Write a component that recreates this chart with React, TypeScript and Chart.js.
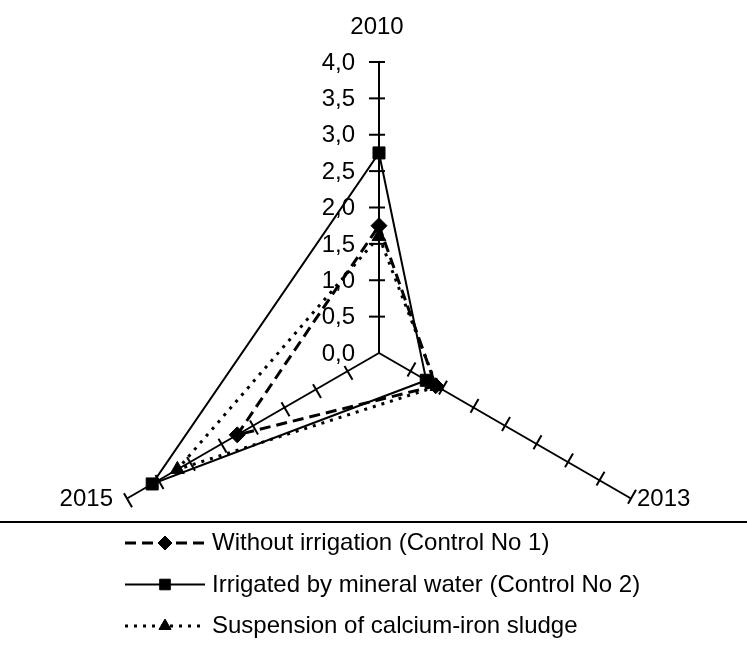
import React, { useEffect, useRef } from 'react';
import { Chart, registerables } from 'chart.js';
import { drawPoint } from 'chart.js/helpers';

Chart.register(...registerables);

const categories = ['2010', '2013', '2015'];
const withoutIrrigation = [1.75, 0.9, 2.25];
const irrigatedMineral = [2.75, 0.75, 3.6];
const suspensionSludge = [1.6, 0.92, 3.2];
const seriesNames = [
  'Without irrigation (Control No 1)',
  'Irrigated by mineral water (Control No 2)',
  'Suspension of calcium-iron sludge',
];
const tickLabels = ['0,0', '0,5', '1,0', '1,5', '2,0', '2,5', '3,0', '3,5', '4,0'];

const FONT = '"Liberation Sans", Arial, sans-serif';

const radarDecor = {
  id: 'radarDecor',
  beforeDraw(chart: any) {
    const ctx = chart.ctx;
    ctx.save();
    ctx.fillStyle = '#fff';
    ctx.fillRect(0, 0, chart.width, chart.height);
    ctx.restore();
  },
  beforeDatasetsDraw(chart: any) {
    const scale = chart.scales.r;
    const ctx = chart.ctx;
    const n = chart.data.labels.length;
    ctx.save();
    ctx.strokeStyle = '#000';
    ctx.lineWidth = 2;
    scale.ticks.forEach((tick: any) => {
      if (tick.value <= 0) return;
      const d = scale.getDistanceFromCenterForValue(tick.value);
      for (let i = 0; i < n; i++) {
        const p = scale.getPointPosition(i, d);
        const ux = (p.x - scale.xCenter) / d;
        const uy = (p.y - scale.yCenter) / d;
        const nx = -uy;
        const ny = ux;
        ctx.beginPath();
        ctx.moveTo(p.x - nx * 10, p.y - ny * 10);
        ctx.lineTo(p.x + nx * 6, p.y + ny * 6);
        ctx.stroke();
      }
    });
    ctx.fillStyle = '#000';
    ctx.font = `24px ${FONT}`;
    ctx.textAlign = 'right';
    ctx.textBaseline = 'middle';
    scale.ticks.forEach((tick: any, ti: number) => {
      const d = scale.getDistanceFromCenterForValue(tick.value);
      const p = scale.getPointPosition(0, d);
      ctx.fillText(tickLabels[ti] ?? String(tick.label), p.x - 24, p.y + 1);
    });
    for (let i = 0; i < n; i++) {
      const p = scale.getPointPosition(i, scale.drawingArea);
      const s = Math.sin(scale.getIndexAngle(i));
      const label = chart.data.labels[i];
      if (s > 0.1) {
        ctx.textAlign = 'left';
        ctx.fillText(label, p.x + 6, p.y + 1);
      } else if (s < -0.1) {
        ctx.textAlign = 'right';
        ctx.fillText(label, p.x - 14, p.y + 1);
      } else {
        ctx.textAlign = 'center';
        ctx.fillText(label, p.x - 2, p.y - 35);
      }
    }
    ctx.restore();
  },
  afterDraw(chart: any) {
    const ctx = chart.ctx;
    ctx.save();
    ctx.strokeStyle = '#000';
    ctx.fillStyle = '#000';
    ctx.lineWidth = 2;
    ctx.beginPath();
    ctx.moveTo(0, 522);
    ctx.lineTo(chart.width, 522);
    ctx.stroke();
    ctx.font = `24px ${FONT}`;
    ctx.textAlign = 'left';
    ctx.textBaseline = 'alphabetic';
    chart.data.datasets.forEach((ds: any, i: number) => {
      const y = 550 + i * 41.5;
      const ly = y - 7;
      ctx.setLineDash(ds.borderDash || []);
      ctx.lineWidth = ds.borderWidth;
      ctx.beginPath();
      ctx.moveTo(125, ly);
      ctx.lineTo(205, ly);
      ctx.stroke();
      ctx.setLineDash([]);
      ctx.lineWidth = 1;
      drawPoint(ctx, { pointStyle: ds.pointStyle, radius: ds.pointRadius - 1, rotation: 0, borderWidth: 1 } as any, 165, ly);
      ctx.fillText(ds.label, 212, y);
    });
    ctx.restore();
  },
};

export default function App() {
  const ref = useRef<HTMLCanvasElement | null>(null);
  useEffect(() => {
    document.body.style.margin = '0';
    const canvas = ref.current;
    if (!canvas) return;
    const chart = new Chart(canvas, {
      type: 'radar',
      data: {
        labels: categories,
        datasets: [
          {
            label: seriesNames[0],
            data: withoutIrrigation,
            borderColor: '#000',
            backgroundColor: '#000',
            borderWidth: 3,
            borderDash: [11, 6],
            fill: false,
            pointStyle: 'rectRot',
            pointRadius: 8,
            pointBackgroundColor: '#000',
            pointBorderColor: '#000',
            pointBorderWidth: 1,
          },
          {
            label: seriesNames[1],
            data: irrigatedMineral,
            borderColor: '#000',
            backgroundColor: '#000',
            borderWidth: 2,
            fill: false,
            pointStyle: 'rect',
            pointRadius: 8.5,
            pointBackgroundColor: '#000',
            pointBorderColor: '#000',
            pointBorderWidth: 1,
          },
          {
            label: seriesNames[2],
            data: suspensionSludge,
            borderColor: '#000',
            backgroundColor: '#000',
            borderWidth: 3,
            borderDash: [3, 6],
            fill: false,
            pointStyle: 'triangle',
            pointRadius: 8,
            pointBackgroundColor: '#000',
            pointBorderColor: '#000',
            pointBorderWidth: 1,
          },
        ],
      },
      options: {
        responsive: false,
        animation: false,
        devicePixelRatio: 1,
        layout: { padding: { left: 11, right: 0, top: 62, bottom: 2 } },
        plugins: { legend: { display: false }, tooltip: { enabled: false } },
        elements: { line: { tension: 0 } },
        scales: {
          r: {
            min: 0,
            max: 4,
            ticks: { stepSize: 0.5, display: false, callback: (_v: any, i: number) => tickLabels[i] },
            grid: { display: false },
            angleLines: { display: true, color: '#000', lineWidth: 2 },
            pointLabels: { display: false },
          },
        },
      },
      plugins: [radarDecor],
    } as any);
    return () => chart.destroy();
  }, []);
  return (
    <div style={{ width: 747, height: 646 }}>
      <canvas ref={ref} width={747} height={646} />
    </div>
  );
}
